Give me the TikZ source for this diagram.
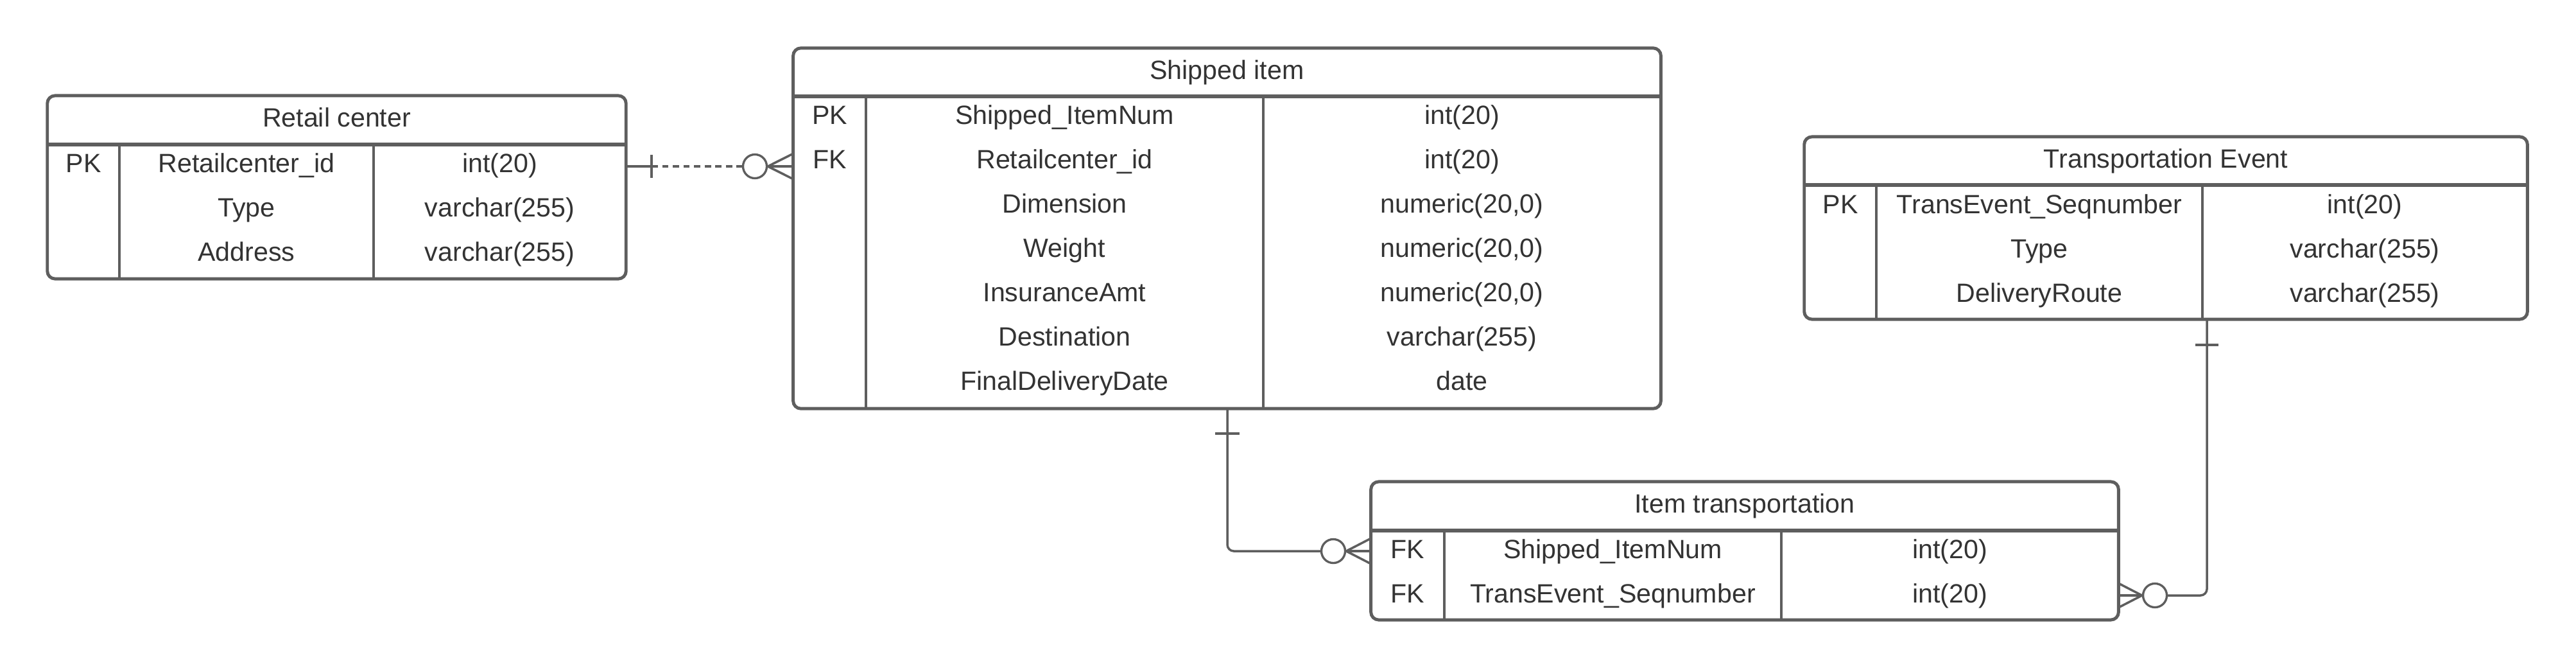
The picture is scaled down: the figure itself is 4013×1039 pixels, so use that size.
\documentclass[tikz,border=0pt]{standalone}
\usepackage{fontspec}
\setmainfont{Liberation Sans}
\usepackage{tikz}
\usetikzlibrary{calc}
\definecolor{erline}{HTML}{5E5E5E}
\definecolor{ertext}{HTML}{333333}
\tikzset{
  tblbox/.style={draw=erline, line width=1.4pt, rounded corners=0.12cm, inner sep=0pt},
  tbltext/.style={anchor=base, inner sep=0pt, text=ertext, font=\fontsize{11.7}{14}\selectfont},
  titlerule/.style={draw=erline, line width=1.5pt},
  colrule/.style={draw=erline, line width=1.15pt},
  relline/.style={draw=erline, line width=1pt},
  zerocirc/.style={circle, draw=erline, line width=0.95pt, fill=white, minimum size=0.37cm, inner sep=0pt},
}
\begin{document}
\begin{tikzpicture}[x=0.01cm, y=-0.01cm]
\fill[white] (0,0) rectangle (4013,1039);
\useasboundingbox (0,0) rectangle (4013,1039);
%
% Retail center
\node[tblbox, minimum width=9.01cm, minimum height=2.85cm](rc) at (524.5,291.5) {};
\node[tbltext](rctitle) at (524.5,197) {Retail center};
\draw[titlerule](74,225) -- (975,225);
\draw[colrule](186,225) -- (186,434);
\draw[colrule](582,225) -- (582,434);
\node[tbltext](rcpk) at (130,268) {PK};
\node[tbltext](rcid) at (384,268) {Retailcenter\_id};
\node[tbltext](rcidt) at (778.5,268) {int(20)};
\node[tbltext](rctype) at (384,337) {Type};
\node[tbltext](rctypet) at (778.5,337) {varchar(255)};
\node[tbltext](rcaddr) at (384,406) {Address};
\node[tbltext](rcaddrt) at (778.5,406) {varchar(255)};
%
% Shipped item
\node[tblbox, minimum width=13.51cm, minimum height=5.61cm](si) at (1911.5,355.5) {};
\node[tbltext](sititle) at (1911.5,123) {Shipped item};
\draw[titlerule](1236,150) -- (2587,150);
\draw[colrule](1349,150) -- (1349,636);
\draw[colrule](1968,150) -- (1968,636);
\node[tbltext](sipk) at (1292.5,193) {PK};
\node[tbltext](sinum) at (1658.5,193) {Shipped\_ItemNum};
\node[tbltext](sinumt) at (2277.5,193) {int(20)};
\node[tbltext](sifk) at (1292.5,262) {FK};
\node[tbltext](sirc) at (1658.5,262) {Retailcenter\_id};
\node[tbltext](sirct) at (2277.5,262) {int(20)};
\node[tbltext](sidim) at (1658.5,331) {Dimension};
\node[tbltext](sidimt) at (2277.5,331) {numeric(20,0)};
\node[tbltext](siwgt) at (1658.5,400) {Weight};
\node[tbltext](siwgtt) at (2277.5,400) {numeric(20,0)};
\node[tbltext](siins) at (1658.5,469) {InsuranceAmt};
\node[tbltext](siinst) at (2277.5,469) {numeric(20,0)};
\node[tbltext](sidest) at (1658.5,538) {Destination};
\node[tbltext](sidestt) at (2277.5,538) {varchar(255)};
\node[tbltext](sifdd) at (1658.5,607) {FinalDeliveryDate};
\node[tbltext](sifddt) at (2277.5,607) {date};
%
% Transportation Event
\node[tblbox, minimum width=11.26cm, minimum height=2.84cm](te) at (3374,355) {};
\node[tbltext](tetitle) at (3374,261) {Transportation Event};
\draw[titlerule](2811,288) -- (3937,288);
\draw[colrule](2923,288) -- (2923,497);
\draw[colrule](3431,288) -- (3431,497);
\node[tbltext](tepk) at (2867,332) {PK};
\node[tbltext](teseq) at (3177,332) {TransEvent\_Seqnumber};
\node[tbltext](teseqt) at (3684,332) {int(20)};
\node[tbltext](tetype) at (3177,401) {Type};
\node[tbltext](tetypet) at (3684,401) {varchar(255)};
\node[tbltext](teroute) at (3177,470) {DeliveryRoute};
\node[tbltext](teroutet) at (3684,470) {varchar(255)};
%
% Item transportation
\node[tblbox, minimum width=11.64cm, minimum height=2.15cm](it) at (2718,857.5) {};
\node[tbltext](ittitle) at (2718,798) {Item transportation};
\draw[titlerule](2136,826) -- (3300,826);
\draw[colrule](2250,826) -- (2250,965);
\draw[colrule](2775,826) -- (2775,965);
\node[tbltext](itfk1) at (2193,869) {FK};
\node[tbltext](itnum) at (2512.5,869) {Shipped\_ItemNum};
\node[tbltext](itnumt) at (3037.5,869) {int(20)};
\node[tbltext](itfk2) at (2193,938) {FK};
\node[tbltext](itseq) at (2512.5,938) {TransEvent\_Seqnumber};
\node[tbltext](itseqt) at (3037.5,938) {int(20)};
%
% Retail center -- Shipped item
\coordinate(rcout) at (975,259);
\coordinate(rcbar) at (1015,259);
\node[zerocirc](rcsi) at (1176,259) {};
\coordinate(siin) at (1236,259);
\draw[relline](rcout) -- (rcbar) {};
\draw[relline](rcbar) +(0,-18) -- +(0,18);
\draw[relline, dash pattern=on 2.8pt off 1.9pt](rcbar) -- (rcsi) {};
\draw[relline](rcsi.east) -- (siin) {};
\draw[relline](rcsi.east) -- ($(siin)+(0,-20)$) {};
\draw[relline](rcsi.east) -- ($(siin)+(0,20)$) {};
%
% Shipped item -- Item transportation
\coordinate(siout) at (1912,636);
\coordinate(sibar) at (1912,675);
\node[zerocirc](siit) at (2077,858) {};
\coordinate(itin) at (2136,858);
\draw[relline, rounded corners=0.1cm](siout) |- (siit) {};
\draw[relline](sibar) +(-19,0) -- +(19,0);
\draw[relline](siit.east) -- (itin) {};
\draw[relline](siit.east) -- ($(itin)+(0,-20)$) {};
\draw[relline](siit.east) -- ($(itin)+(0,20)$) {};
%
% Transportation Event -- Item transportation
\coordinate(teout) at (3438,497);
\coordinate(tebar) at (3438,537);
\node[zerocirc](teit) at (3357,927) {};
\coordinate(itout) at (3300,927);
\draw[relline, rounded corners=0.1cm](teout) |- (teit) {};
\draw[relline](tebar) +(-18,0) -- +(18,0);
\draw[relline](teit.west) -- (itout) {};
\draw[relline](teit.west) -- ($(itout)+(0,-19)$) {};
\draw[relline](teit.west) -- ($(itout)+(0,19)$) {};
\end{tikzpicture}
\end{document}
